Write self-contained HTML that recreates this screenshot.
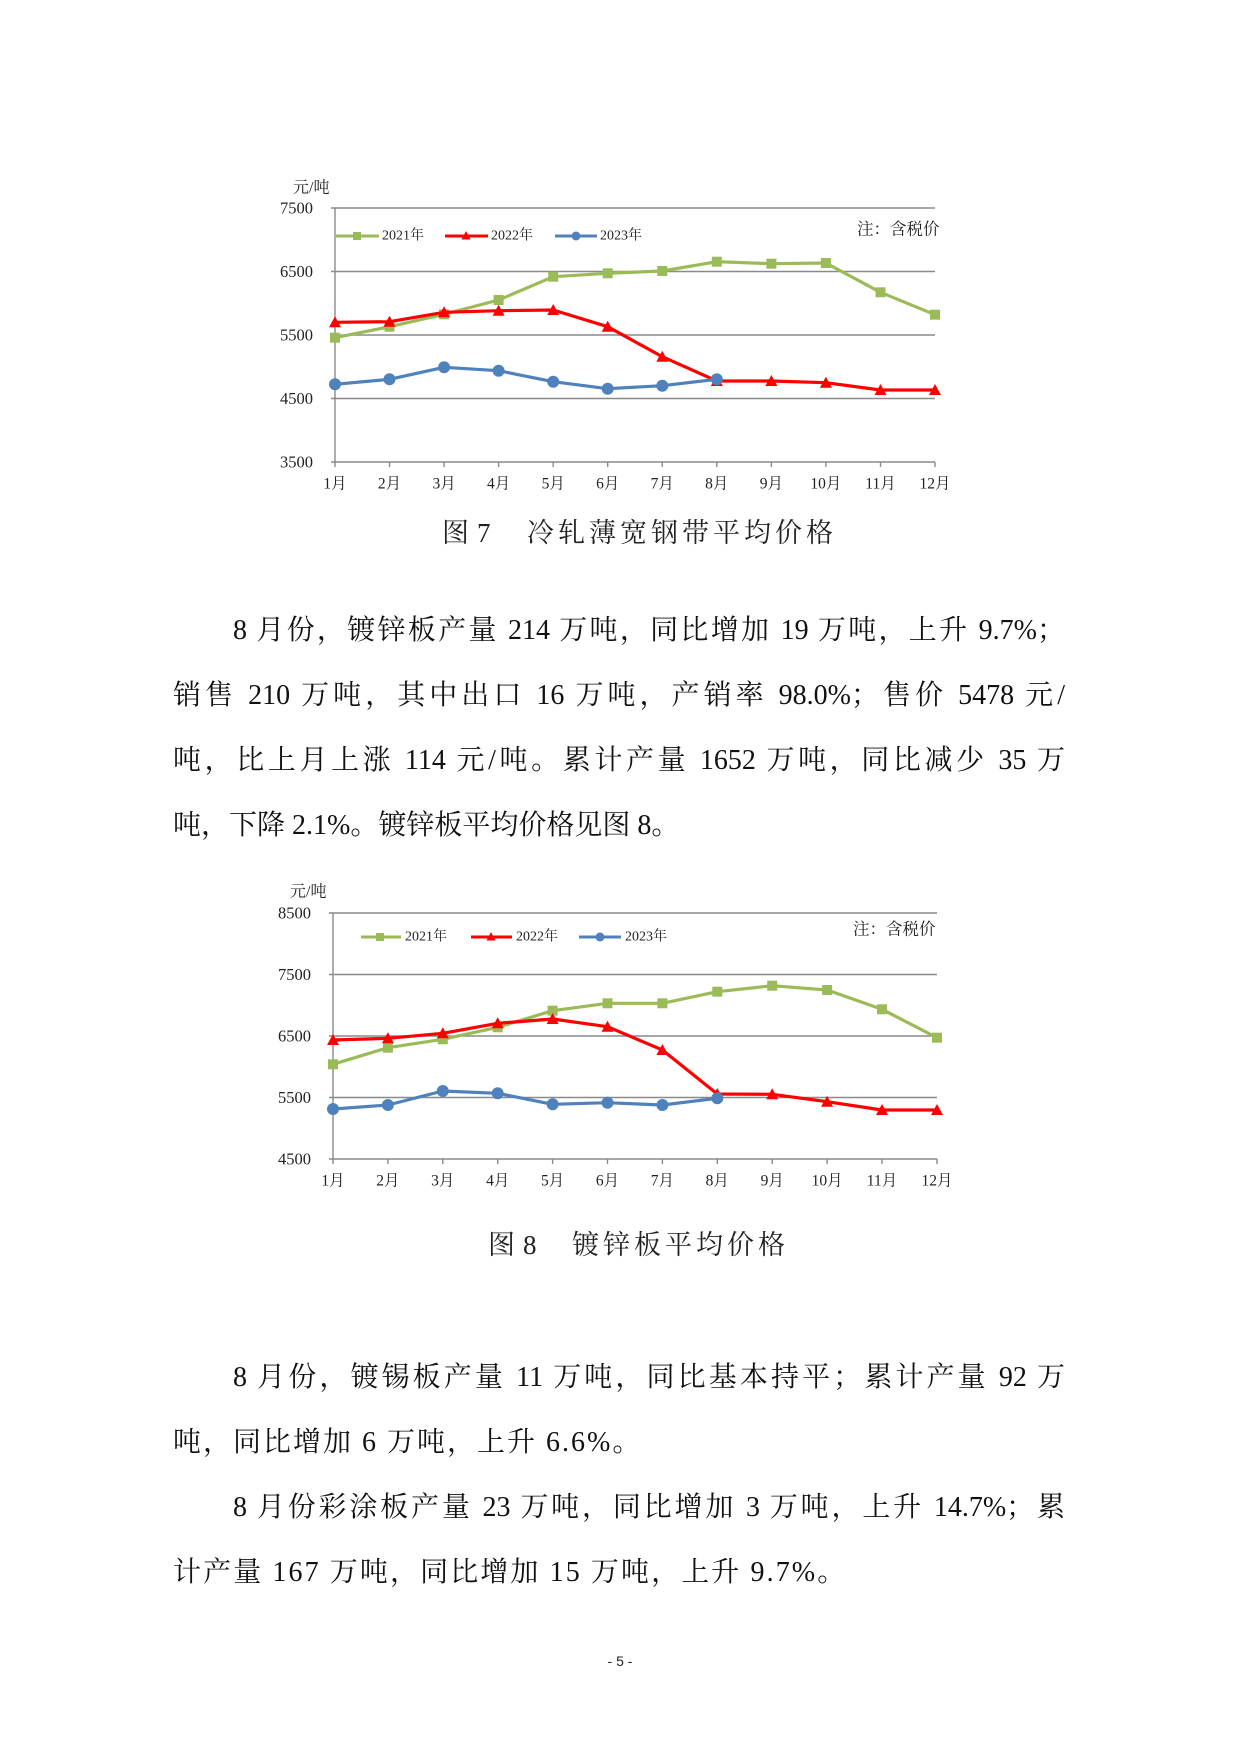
<!DOCTYPE html>
<html>
<head>
<meta charset="utf-8">
<style>
  html,body{margin:0;padding:0;background:#fff;}
  body{width:1240px;height:1753px;position:relative;overflow:hidden;}
  .ln{position:absolute;font-family:"Liberation Serif","Noto Serif CJK SC",serif;font-size:28px;line-height:40px;color:#111;height:40px;}
  .j{text-align:justify;text-align-last:justify;}
  svg{position:absolute;left:0;top:0;}
  .ser{font-family:"Liberation Serif","Noto Serif CJK SC",serif;fill:#222;}
</style>
</head>
<body>
<svg width="1240" height="1753" viewBox="0 0 1240 1753" xmlns="http://www.w3.org/2000/svg">
  <!-- ================= CHART 1 ================= -->
  <g stroke="#8a8a8a" stroke-width="1.4" fill="none">
    <line x1="331" y1="208" x2="935" y2="208"/>
    <line x1="331" y1="271.5" x2="935" y2="271.5"/>
    <line x1="331" y1="335" x2="935" y2="335"/>
    <line x1="331" y1="398.5" x2="935" y2="398.5"/>
    <line x1="331" y1="462" x2="935" y2="462"/>
    <line x1="335" y1="208" x2="335" y2="462"/>
    <line x1="335" y1="462" x2="335" y2="467"/>
    <line x1="389.5" y1="462" x2="389.5" y2="467"/>
    <line x1="444.1" y1="462" x2="444.1" y2="467"/>
    <line x1="498.6" y1="462" x2="498.6" y2="467"/>
    <line x1="553.2" y1="462" x2="553.2" y2="467"/>
    <line x1="607.7" y1="462" x2="607.7" y2="467"/>
    <line x1="662.3" y1="462" x2="662.3" y2="467"/>
    <line x1="716.8" y1="462" x2="716.8" y2="467"/>
    <line x1="771.4" y1="462" x2="771.4" y2="467"/>
    <line x1="825.9" y1="462" x2="825.9" y2="467"/>
    <line x1="880.5" y1="462" x2="880.5" y2="467"/>
    <line x1="935" y1="462" x2="935" y2="467"/>
  </g>
  <g class="ser" font-size="16.5" text-anchor="end" dominant-baseline="central">
    <text x="313" y="208">7500</text>
    <text x="313" y="271.5">6500</text>
    <text x="313" y="335">5500</text>
    <text x="313" y="398.5">4500</text>
    <text x="313" y="462">3500</text>
  </g>
  <g class="ser" font-size="15.5" text-anchor="middle" dominant-baseline="central">
    <text x="335" y="484">1月</text>
    <text x="389.5" y="484">2月</text>
    <text x="444.1" y="484">3月</text>
    <text x="498.6" y="484">4月</text>
    <text x="553.2" y="484">5月</text>
    <text x="607.7" y="484">6月</text>
    <text x="662.3" y="484">7月</text>
    <text x="716.8" y="484">8月</text>
    <text x="771.4" y="484">9月</text>
    <text x="825.9" y="484">10月</text>
    <text x="880.5" y="484">11月</text>
    <text x="935" y="484">12月</text>
  </g>
  <text class="ser" x="293" y="188" font-size="16" dominant-baseline="central">元/吨</text>
  <text class="ser" x="857" y="229" font-size="16.5" dominant-baseline="central">注：含税价</text>
  <!-- legend 1 -->
  <line x1="336" y1="236" x2="379" y2="236" stroke="#9BBB59" stroke-width="3"/>
  <rect x="353" y="232" width="8" height="8" fill="#9BBB59"/>
  <text class="ser" x="382" y="236" font-size="14" dominant-baseline="central">2021年</text>
  <line x1="445" y1="236" x2="488" y2="236" stroke="#FF0000" stroke-width="3"/>
  <polygon points="466,231 461.5,239.5 470.5,239.5" fill="#FF0000"/>
  <text class="ser" x="491" y="236" font-size="14" dominant-baseline="central">2022年</text>
  <line x1="555" y1="236" x2="597" y2="236" stroke="#4F81BD" stroke-width="3"/>
  <circle cx="576" cy="236" r="4.5" fill="#4F81BD"/>
  <text class="ser" x="600" y="236" font-size="14" dominant-baseline="central">2023年</text>
  <!-- series 2021 -->
  <polyline fill="none" stroke="#9BBB59" stroke-width="3.2" stroke-linejoin="round"
    points="335,337.7 389.5,326.7 444.1,314.3 498.6,300 553.2,276.7 607.7,273.3 662.3,271 716.8,261.7 771.4,263.7 825.9,263 880.5,292.3 935,314.7"/>
  <g fill="#9BBB59">
    <rect x="330" y="332.7" width="10" height="10"/>
    <rect x="384.5" y="321.7" width="10" height="10"/>
    <rect x="439.1" y="309.3" width="10" height="10"/>
    <rect x="493.6" y="295" width="10" height="10"/>
    <rect x="548.2" y="271.7" width="10" height="10"/>
    <rect x="602.7" y="268.3" width="10" height="10"/>
    <rect x="657.3" y="266" width="10" height="10"/>
    <rect x="711.8" y="256.7" width="10" height="10"/>
    <rect x="766.4" y="258.7" width="10" height="10"/>
    <rect x="820.9" y="258" width="10" height="10"/>
    <rect x="875.5" y="287.3" width="10" height="10"/>
    <rect x="930" y="309.7" width="10" height="10"/>
  </g>
  <!-- series 2022 -->
  <polyline fill="none" stroke="#FF0000" stroke-width="3.2" stroke-linejoin="round"
    points="335,322.3 389.5,321.7 444.1,312.3 498.6,310.7 553.2,310 607.7,326.7 662.3,356.7 716.8,381 771.4,381 825.9,382.7 880.5,390 935,390"/>
  <g fill="#FF0000">
    <polygon points="335,316.3 329,327.3 341,327.3"/>
    <polygon points="389.5,315.7 383.5,326.7 395.5,326.7"/>
    <polygon points="444.1,306.3 438.1,317.3 450.1,317.3"/>
    <polygon points="498.6,304.7 492.6,315.7 504.6,315.7"/>
    <polygon points="553.2,304 547.2,315 559.2,315"/>
    <polygon points="607.7,320.7 601.7,331.7 613.7,331.7"/>
    <polygon points="662.3,350.7 656.3,361.7 668.3,361.7"/>
    <polygon points="716.8,375 710.8,386 722.8,386"/>
    <polygon points="771.4,375 765.4,386 777.4,386"/>
    <polygon points="825.9,376.7 819.9,387.7 831.9,387.7"/>
    <polygon points="880.5,384 874.5,395 886.5,395"/>
    <polygon points="935,384 929,395 941,395"/>
  </g>
  <!-- series 2023 -->
  <polyline fill="none" stroke="#4F81BD" stroke-width="3.2" stroke-linejoin="round"
    points="335,384.3 389.5,379.3 444.1,367.3 498.6,370.7 553.2,381.7 607.7,388.7 662.3,385.7 716.8,379.3"/>
  <g fill="#4F81BD">
    <circle cx="335" cy="384.3" r="6"/>
    <circle cx="389.5" cy="379.3" r="6"/>
    <circle cx="444.1" cy="367.3" r="6"/>
    <circle cx="498.6" cy="370.7" r="6"/>
    <circle cx="553.2" cy="381.7" r="6"/>
    <circle cx="607.7" cy="388.7" r="6"/>
    <circle cx="662.3" cy="385.7" r="6"/>
    <circle cx="716.8" cy="379.3" r="6"/>
  </g>

  <!-- caption 1 -->
  <g class="ser" font-size="27" dominant-baseline="central">
    <text x="442" y="533">图</text>
    <text x="477" y="533">7</text>
    <text x="527 558 589 620 651 682 713 744 775 806" y="533">冷轧薄宽钢带平均价格</text>
  </g>

  <!-- ================= CHART 2 ================= -->
  <g stroke="#8a8a8a" stroke-width="1.4" fill="none">
    <line x1="329" y1="913" x2="937" y2="913"/>
    <line x1="329" y1="974.5" x2="937" y2="974.5"/>
    <line x1="329" y1="1036" x2="937" y2="1036"/>
    <line x1="329" y1="1097.5" x2="937" y2="1097.5"/>
    <line x1="329" y1="1159" x2="937" y2="1159"/>
    <line x1="333" y1="913" x2="333" y2="1159"/>
    <line x1="333" y1="1159" x2="333" y2="1164"/>
    <line x1="387.9" y1="1159" x2="387.9" y2="1164"/>
    <line x1="442.8" y1="1159" x2="442.8" y2="1164"/>
    <line x1="497.7" y1="1159" x2="497.7" y2="1164"/>
    <line x1="552.6" y1="1159" x2="552.6" y2="1164"/>
    <line x1="607.5" y1="1159" x2="607.5" y2="1164"/>
    <line x1="662.4" y1="1159" x2="662.4" y2="1164"/>
    <line x1="717.3" y1="1159" x2="717.3" y2="1164"/>
    <line x1="772.2" y1="1159" x2="772.2" y2="1164"/>
    <line x1="827.1" y1="1159" x2="827.1" y2="1164"/>
    <line x1="882" y1="1159" x2="882" y2="1164"/>
    <line x1="937" y1="1159" x2="937" y2="1164"/>
  </g>
  <g class="ser" font-size="16.5" text-anchor="end" dominant-baseline="central">
    <text x="311" y="913">8500</text>
    <text x="311" y="974.5">7500</text>
    <text x="311" y="1036">6500</text>
    <text x="311" y="1097.5">5500</text>
    <text x="311" y="1159">4500</text>
  </g>
  <g class="ser" font-size="15.5" text-anchor="middle" dominant-baseline="central">
    <text x="333" y="1181">1月</text>
    <text x="387.9" y="1181">2月</text>
    <text x="442.8" y="1181">3月</text>
    <text x="497.7" y="1181">4月</text>
    <text x="552.6" y="1181">5月</text>
    <text x="607.5" y="1181">6月</text>
    <text x="662.4" y="1181">7月</text>
    <text x="717.3" y="1181">8月</text>
    <text x="772.2" y="1181">9月</text>
    <text x="827.1" y="1181">10月</text>
    <text x="882" y="1181">11月</text>
    <text x="937" y="1181">12月</text>
  </g>
  <text class="ser" x="290" y="892" font-size="16" dominant-baseline="central">元/吨</text>
  <text class="ser" x="853" y="929" font-size="16.5" dominant-baseline="central">注：含税价</text>
  <!-- legend 2 -->
  <line x1="361" y1="937" x2="401" y2="937" stroke="#9BBB59" stroke-width="3"/>
  <rect x="376" y="933" width="8" height="8" fill="#9BBB59"/>
  <text class="ser" x="405" y="937" font-size="14" dominant-baseline="central">2021年</text>
  <line x1="471" y1="937" x2="512" y2="937" stroke="#FF0000" stroke-width="3"/>
  <polygon points="491,932 486.5,940.5 495.5,940.5" fill="#FF0000"/>
  <text class="ser" x="516" y="937" font-size="14" dominant-baseline="central">2022年</text>
  <line x1="579" y1="937" x2="621" y2="937" stroke="#4F81BD" stroke-width="3"/>
  <circle cx="600" cy="937" r="4.5" fill="#4F81BD"/>
  <text class="ser" x="625" y="937" font-size="14" dominant-baseline="central">2023年</text>
  <!-- series 2021 -->
  <polyline fill="none" stroke="#9BBB59" stroke-width="3.2" stroke-linejoin="round"
    points="333,1064.3 387.9,1047.7 442.8,1039.3 497.7,1027.3 552.6,1010.7 607.5,1003.3 662.4,1003.3 717.3,991.7 772.2,985.7 827.1,990 882,1009.3 937,1037.7"/>
  <g fill="#9BBB59">
    <rect x="328" y="1059.3" width="10" height="10"/>
    <rect x="382.9" y="1042.7" width="10" height="10"/>
    <rect x="437.8" y="1034.3" width="10" height="10"/>
    <rect x="492.7" y="1022.3" width="10" height="10"/>
    <rect x="547.6" y="1005.7" width="10" height="10"/>
    <rect x="602.5" y="998.3" width="10" height="10"/>
    <rect x="657.4" y="998.3" width="10" height="10"/>
    <rect x="712.3" y="986.7" width="10" height="10"/>
    <rect x="767.2" y="980.7" width="10" height="10"/>
    <rect x="822.1" y="985" width="10" height="10"/>
    <rect x="877" y="1004.3" width="10" height="10"/>
    <rect x="932" y="1032.7" width="10" height="10"/>
  </g>
  <!-- series 2022 -->
  <polyline fill="none" stroke="#FF0000" stroke-width="3.2" stroke-linejoin="round"
    points="333,1040 387.9,1038.3 442.8,1033.3 497.7,1023.3 552.6,1019 607.5,1026.7 662.4,1050 717.3,1094 772.2,1094.3 827.1,1101.7 882,1110 937,1110"/>
  <g fill="#FF0000">
    <polygon points="333,1034 327,1045 339,1045"/>
    <polygon points="387.9,1032.3 381.9,1043.3 393.9,1043.3"/>
    <polygon points="442.8,1027.3 436.8,1038.3 448.8,1038.3"/>
    <polygon points="497.7,1017.3 491.7,1028.3 503.7,1028.3"/>
    <polygon points="552.6,1013 546.6,1024 558.6,1024"/>
    <polygon points="607.5,1020.7 601.5,1031.7 613.5,1031.7"/>
    <polygon points="662.4,1044 656.4,1055 668.4,1055"/>
    <polygon points="717.3,1088 711.3,1099 723.3,1099"/>
    <polygon points="772.2,1088.3 766.2,1099.3 778.2,1099.3"/>
    <polygon points="827.1,1095.7 821.1,1106.7 833.1,1106.7"/>
    <polygon points="882,1104 876,1115 888,1115"/>
    <polygon points="937,1104 931,1115 943,1115"/>
  </g>
  <!-- series 2023 -->
  <polyline fill="none" stroke="#4F81BD" stroke-width="3.2" stroke-linejoin="round"
    points="333,1109 387.9,1105 442.8,1091 497.7,1093.3 552.6,1104.3 607.5,1102.7 662.4,1105 717.3,1098.3"/>
  <g fill="#4F81BD">
    <circle cx="333" cy="1109" r="6"/>
    <circle cx="387.9" cy="1105" r="6"/>
    <circle cx="442.8" cy="1091" r="6"/>
    <circle cx="497.7" cy="1093.3" r="6"/>
    <circle cx="552.6" cy="1104.3" r="6"/>
    <circle cx="607.5" cy="1102.7" r="6"/>
    <circle cx="662.4" cy="1105" r="6"/>
    <circle cx="717.3" cy="1098.3" r="6"/>
  </g>

  <!-- caption 2 -->
  <g class="ser" font-size="27" dominant-baseline="central">
    <text x="488" y="1245">图</text>
    <text x="523" y="1245">8</text>
    <text x="572 603 634 665 696 727 758" y="1245">镀锌板平均价格</text>
  </g>

  <!-- page number -->
  <text x="620" y="1661" font-family="Liberation Sans, sans-serif" font-size="14" fill="#222" text-anchor="middle" dominant-baseline="central">- 5 -</text>
</svg>

<div class="ln j" style="left:233px;width:832px;top:611px;">8 月份，镀锌板产量 214 万吨，同比增加 19 万吨，上升 9.7%；</div>
<div class="ln j" style="left:173px;width:892px;top:676px;">销售 210 万吨，其中出口 16 万吨，产销率 98.0%；售价 5478 元/</div>
<div class="ln j" style="left:173px;width:892px;top:741px;">吨，比上月上涨 114 元/吨。累计产量 1652 万吨，同比减少 35 万</div>
<div class="ln" style="left:173px;width:892px;top:806px;">吨，下降 2.1%。镀锌板平均价格见图 8。</div>

<div class="ln j" style="left:233px;width:832px;top:1358px;">8 月份，镀锡板产量 11 万吨，同比基本持平；累计产量 92 万</div>
<div class="ln" style="left:173px;width:892px;top:1423px;letter-spacing:2px;">吨，同比增加 6 万吨，上升 6.6%。</div>
<div class="ln j" style="left:233px;width:832px;top:1488px;">8 月份彩涂板产量 23 万吨，同比增加 3 万吨，上升 14.7%；累</div>
<div class="ln" style="left:173px;width:892px;top:1553px;letter-spacing:2.1px;">计产量 167 万吨，同比增加 15 万吨，上升 9.7%。</div>
</body>
</html>
